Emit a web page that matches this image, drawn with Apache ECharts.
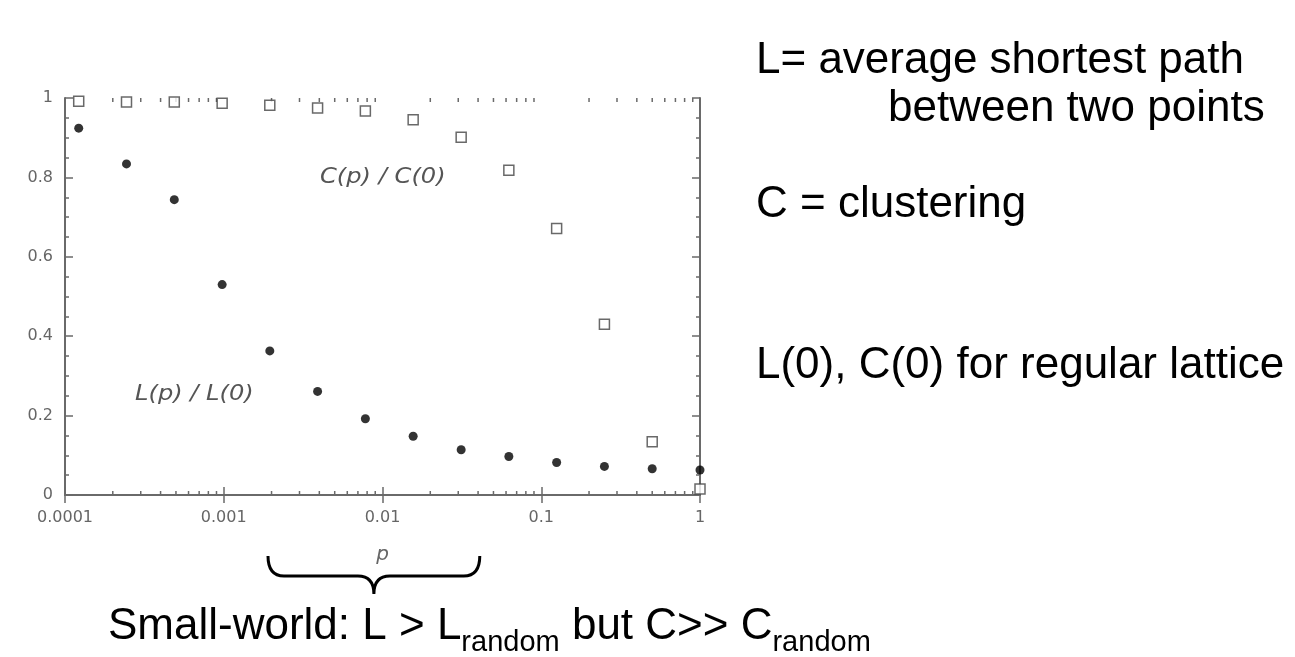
<!DOCTYPE html>
<html>
<head>
<meta charset="utf-8">
<title>Small-world: L(p)/L(0) and C(p)/C(0)</title>
<script src="https://cdn.jsdelivr.net/npm/echarts@6/dist/echarts.min.js"></script>
<style>
  html, body { margin: 0; padding: 0; background: #fff; }
  #chart { width: 1295px; height: 657px; }
</style>
</head>
<body>
<div id="chart"></div>
<script>
  // rewiring probability p (2^-13 ... 1)
  const pValues = [0.000122, 0.000244, 0.000488, 0.000977, 0.00195, 0.0039, 0.0078, 0.0156, 0.0313, 0.0625, 0.125, 0.25, 0.5, 1];
  // L(p) / L(0)  (filled dots)
  const lRatio = [0.924, 0.834, 0.744, 0.53, 0.363, 0.261, 0.192, 0.148, 0.114, 0.097, 0.082, 0.072, 0.066, 0.063];
  // C(p) / C(0)  (open squares)
  const cRatio = [0.992, 0.99, 0.99, 0.987, 0.982, 0.975, 0.967, 0.945, 0.901, 0.818, 0.671, 0.43, 0.134, 0.015];
  const xDecades = [0.0001, 0.001, 0.01, 0.1, 1];
  const yTickLabels = ['0', '0.2', '0.4', '0.6', '0.8', '1'];
  // p range marked by the brace (small-world regime)
  const smallWorldRange = [0.0019, 0.041];

  const axisGray = '#6a6a6a';
  const labelFont = 'DejaVu Sans';
  const slideFont = '"Liberation Sans", Arial, sans-serif';

  // minor ticks 2..9 within each decade of the log axis
  const minorTicks = [];
  xDecades.slice(0, -1).forEach((d) => {
    for (let k = 2; k <= 9; k++) minorTicks.push([d * k, 0]);
  });

  const chart = echarts.init(document.getElementById('chart'));

  const xAxisBase = {
    type: 'log',
    logBase: 10,
    min: 0.0001,
    max: 1,
    splitLine: { show: false },
    axisLine: { show: true, lineStyle: { color: axisGray, width: 2 } },
    axisTick: { show: true, inside: true, length: 8, lineStyle: { color: axisGray, width: 1.5 } },
  };

  const yAxisBase = {
    type: 'value',
    min: 0,
    max: 1,
    interval: 0.2,
    splitLine: { show: false },
    axisLine: { show: true, lineStyle: { color: axisGray, width: 2 } },
    axisTick: { show: true, inside: true, length: 8, lineStyle: { color: axisGray, width: 1.5 } },
    minorTick: { show: true, splitNumber: 4, length: 4, lineStyle: { color: axisGray, width: 1.5 } },
  };

  chart.setOption({
    animation: false,
    backgroundColor: '#fff',
    grid: { left: 65, right: 595, top: 98, bottom: 162 },
    xAxis: [
      {
        ...xAxisBase,
        position: 'bottom',
        name: 'p',
        nameLocation: 'middle',
        nameGap: 50,
        nameTextStyle: { fontFamily: labelFont, fontStyle: 'italic', fontSize: 20, color: '#666' },
        axisLabel: {
          margin: 15,
          fontFamily: labelFont,
          fontSize: 16,
          color: '#666',
          formatter: (v) => String(Number(v.toPrecision(1))),
        },
      },
      { ...xAxisBase, position: 'top', axisLabel: { show: false } },
    ],
    yAxis: [
      {
        ...yAxisBase,
        position: 'left',
        axisLabel: {
          margin: 12,
          fontFamily: labelFont,
          fontSize: 16,
          color: '#666',
          formatter: (v) => yTickLabels[Math.round(v / 0.2)],
        },
      },
      { ...yAxisBase, position: 'right', axisLabel: { show: false } },
    ],
    series: [
      {
        name: 'minor ticks',
        type: 'custom',
        silent: true,
        xAxisIndex: 0,
        yAxisIndex: 0,
        data: minorTicks,
        renderItem: (params, api) => {
          const x = api.coord([api.value(0), 0])[0];
          const top = params.coordSys.y;
          const bottom = params.coordSys.y + params.coordSys.height;
          const style = { stroke: axisGray, lineWidth: 1.5 };
          return {
            type: 'group',
            children: [
              { type: 'line', shape: { x1: x, y1: bottom, x2: x, y2: bottom - 4 }, style },
              { type: 'line', shape: { x1: x, y1: top, x2: x, y2: top + 4 }, style },
            ],
          };
        },
      },
      {
        name: 'C(p) / C(0)',
        type: 'scatter',
        symbol: 'rect',
        symbolSize: 10,
        itemStyle: { color: '#fff', borderColor: '#444', borderWidth: 1.5 },
        data: pValues.map((p, i) => [p, cRatio[i]]),
        z: 3,
      },
      {
        name: 'L(p) / L(0)',
        type: 'scatter',
        symbol: 'circle',
        symbolSize: 9,
        itemStyle: { color: '#000' },
        data: pValues.map((p, i) => [p, lRatio[i]]),
        z: 4,
      },
      {
        name: 'brace',
        type: 'custom',
        silent: true,
        data: [smallWorldRange],
        renderItem: (params, api) => {
          const x1 = api.coord([api.value(0), 0])[0];
          const x2 = api.coord([api.value(1), 0])[0];
          const base = params.coordSys.y + params.coordSys.height;
          const y0 = base + 61;
          const y1 = base + 81;
          const y2 = base + 99;
          const xm = (x1 + x2) / 2;
          const r = 16;
          const d = `M${x1} ${y0} Q${x1} ${y1} ${x1 + r} ${y1} L${xm - r} ${y1} Q${xm} ${y1} ${xm} ${y2}`
            + ` Q${xm} ${y1} ${xm + r} ${y1} L${x2 - r} ${y1} Q${x2} ${y1} ${x2} ${y0}`;
          return {
            type: 'path',
            shape: { pathData: d },
            style: { stroke: '#000', fill: 'none', lineWidth: 3 },
          };
        },
      },
    ],
    graphic: [
      {
        type: 'text', x: 320, y: 178, scaleX: 1.15,
        style: { text: 'C(p) / C(0)', fontFamily: labelFont, fontStyle: 'italic', fontSize: 21, fill: '#555', textVerticalAlign: 'middle', verticalAlign: 'middle' },
      },
      {
        type: 'text', x: 135, y: 395, scaleX: 1.15,
        style: { text: 'L(p) / L(0)', fontFamily: labelFont, fontStyle: 'italic', fontSize: 21, fill: '#555', textVerticalAlign: 'middle', verticalAlign: 'middle' },
      },
      {
        type: 'text', x: 756, y: 61,
        style: { text: 'L= average shortest path', font: `44px ${slideFont}`, fill: '#000', textVerticalAlign: 'middle', verticalAlign: 'middle' },
      },
      {
        type: 'text', x: 888, y: 109,
        style: { text: 'between two points', font: `44px ${slideFont}`, fill: '#000', textVerticalAlign: 'middle', verticalAlign: 'middle' },
      },
      {
        type: 'text', x: 756, y: 205,
        style: { text: 'C = clustering', font: `44px ${slideFont}`, fill: '#000', textVerticalAlign: 'middle', verticalAlign: 'middle' },
      },
      {
        type: 'text', x: 756, y: 366,
        style: { text: 'L(0), C(0) for regular lattice', font: `44px ${slideFont}`, fill: '#000', textVerticalAlign: 'middle', verticalAlign: 'middle' },
      },
      {
        type: 'text', x: 108, y: 627,
        style: {
          text: '{m|Small-world: L > L}{s|random}{m| but C>> C}{s|random}',
          textVerticalAlign: 'middle',
          verticalAlign: 'middle',
          rich: {
            m: { fontFamily: slideFont, fontSize: 44, lineHeight: 60, fill: '#000' },
            s: { fontFamily: slideFont, fontSize: 29, lineHeight: 28, verticalAlign: 'bottom', fill: '#000' },
          },
        },
      },
    ],
  });
</script>
</body>
</html>
